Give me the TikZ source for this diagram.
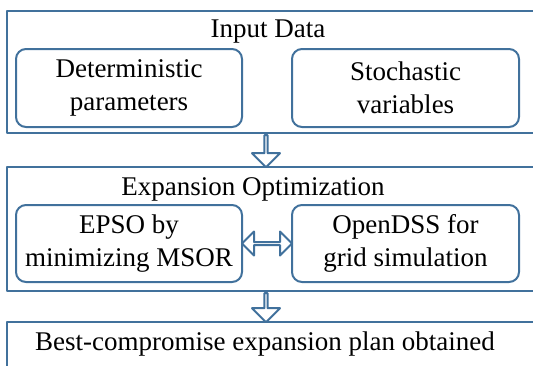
\documentclass[tikz,border=0pt]{standalone}
\usepackage{fontspec}
\setmainfont{Liberation Serif}
\usetikzlibrary{shapes.arrows, calc}
\definecolor{frameblue}{HTML}{41719C}
\begin{document}
\begin{tikzpicture}[x=1pt, y=-1pt, line join=round,
    outer/.style={draw=frameblue, line width=2.4pt, inner sep=0pt},
    inbox/.style={draw=frameblue, line width=2pt, rounded corners=10pt,
      inner sep=0pt, align=center, font=\fontsize{27}{33}\selectfont},
    lab/.style={inner sep=0pt, anchor=base, font=\fontsize{27}{33}\selectfont},
    downarrow/.style={single arrow, draw=frameblue, line width=2pt, fill=white,
      inner sep=0pt, minimum width=28pt, single arrow head extend=8pt,
      minimum height=31pt, shape border rotate=270, anchor=tail},
    bothways/.style={double arrow, draw=frameblue, line width=2pt, fill=white,
      inner sep=0pt, minimum width=24pt, double arrow head extend=7pt}]
  \useasboundingbox (0,0) rectangle (533,365);
  \node[outer, minimum width=540pt, minimum height=122pt] (inp) at (277,72) {};
  \node[lab] (inplab) at (268,37) {Input Data};
  \node[inbox, minimum width=226pt, minimum height=78pt] (det) at (129,88)
    {Deterministic\\parameters};
  \node[inbox, minimum width=227pt, minimum height=78pt] (sto) at (405.5,88)
    {Stochastic\\variables};
  \node[outer, minimum width=540pt, minimum height=124pt] (opt) at (277,229) {};
  \node[lab] (optlab) at (253,195) {Expansion Optimization};
  \node[inbox, minimum width=226pt, minimum height=77pt] (epso) at (129,243.5)
    {EPSO by\\minimizing MSOR};
  \node[inbox, minimum width=227pt, minimum height=77pt] (dss) at (405.5,243.5)
    {OpenDSS for\\grid simulation};
  \node[outer, minimum width=540pt, minimum height=70pt] (res) at (277,357) {};
  \node[lab] (reslab) at (265,350) {Best-compromise expansion plan obtained};
  \node[downarrow, minimum height=32pt] (a1) at (inp.south -| 266,0) {};
  \node[downarrow, minimum height=29pt] (a2) at (opt.south -| 266,0) {};
  \node[bothways, minimum height=50pt] (a3) at ($(epso.east)!0.5!(dss.west)$) {};
\end{tikzpicture}
\end{document}
